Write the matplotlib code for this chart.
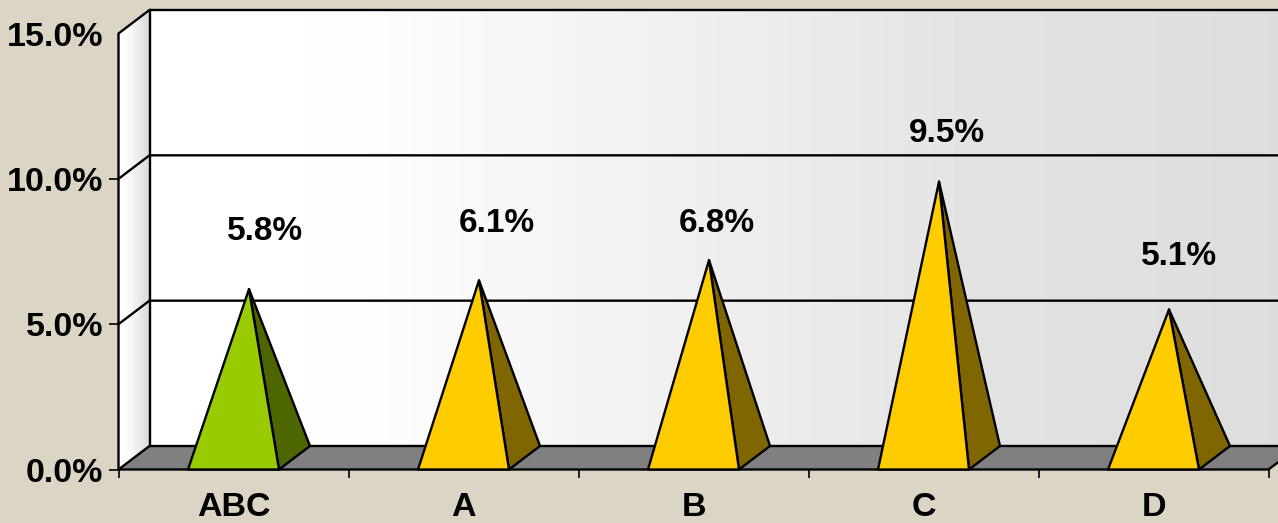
import numpy as np
import matplotlib
matplotlib.use("Agg")
import matplotlib.pyplot as plt
from matplotlib.patches import Polygon

plt.rcParams['font.family'] = ['Liberation Sans', 'DejaVu Sans']

categories = ['ABC', 'A', 'B', 'C', 'D']
values = [5.8, 6.1, 6.8, 9.5, 5.1]
value_labels = ['5.8%', '6.1%', '6.8%', '9.5%', '5.1%']
front_colors = ['#99CC00', '#FFCC00', '#FFCC00', '#FFCC00', '#FFCC00']
side_colors = ['#4D6600', '#806600', '#806600', '#806600', '#806600']
y_ticks = [0, 5, 10, 15]
y_tick_labels = ['0.0%', '5.0%', '10.0%', '15.0%']

# manual label nudges, the labels were dragged around in the original
label_dx = [0.135, 0.143, 0.10, 0.10, 0.113]
label_dy = [1.98, 1.95, 1.26, 1.67, 1.81]

W, H = 1278, 523
bg = '#DCD5C6'

fig = plt.figure(figsize=(W / 100, H / 100), dpi=100, facecolor=bg)
# axes box is the front plane of the 3d chart
ax = fig.add_axes([118.5 / W, 1 - 469.5 / H, 1150 / W, 436 / H])
ax.set_facecolor('none')

# depth of the 3d box in data units
dx = 31 / 230
dy = 23.5 / 29.07
half = 45.5 / 230
x0, x1 = -0.5, 4.5
lw = 1.7

# back wall
grad = np.interp(np.linspace(0, 1, 256), [0, 0.17, 0.75, 1], [1.0, 0.995, 0.885, 0.865]).reshape(1, -1)
im = ax.imshow(grad, cmap='gray', vmin=0, vmax=1, aspect='auto',
               extent=(x0 + dx, x1 + dx, dy, 15 + dy), zorder=1)
im.set_clip_box(fig.bbox)

# left wall
side = Polygon([(x0, 0), (x0 + dx, dy), (x0 + dx, 15 + dy), (x0, 15)],
               closed=True, fc='none', ec='none', clip_on=False)
ax.add_patch(side)
grad2 = np.interp(np.linspace(0, 1, 64), [0, 0.35, 1], [1.0, 0.98, 0.85]).reshape(1, -1)
im2 = ax.imshow(grad2, cmap='gray', vmin=0, vmax=1, aspect='auto',
                extent=(x0, x0 + dx, 0, 15 + dy), zorder=1)
im2.set_clip_box(fig.bbox)
im2.set_clip_path(side)

ax.set_xlim(x0, x1)
ax.set_ylim(0, 15)

# floor
ax.add_patch(Polygon([(x0, 0), (x1, 0), (x1 + dx, dy), (x0 + dx, dy)], closed=True,
                     fc='#808080', ec='black', lw=lw, clip_on=False, zorder=2))

# wall outlines and gridlines
ax.plot([x0, x0, x0 + dx, x1 + dx], [0, 15, 15 + dy, 15 + dy], color='black', lw=lw,
        clip_on=False, zorder=3)
ax.plot([x0 + dx, x0 + dx], [dy, 15 + dy], color='black', lw=lw, clip_on=False, zorder=3)
for t in y_ticks[1:-1]:
    ax.plot([x0, x0 + dx, x1 + dx], [t, t + dy, t + dy], color='black', lw=lw,
            clip_on=False, zorder=3)

# pyramids
for i, v in enumerate(values):
    peak = (i + dx / 2, v + dy / 2)
    ax.add_patch(Polygon([(i + half, 0), (i + half + dx, dy), peak], closed=True,
                         fc=side_colors[i], ec='black', lw=lw, joinstyle='round',
                         clip_on=False, zorder=4))
    ax.add_patch(Polygon([(i - half, 0), (i + half, 0), peak], closed=True,
                         fc=front_colors[i], ec='black', lw=lw, joinstyle='round',
                         clip_on=False, zorder=5))
    ax.text(i + label_dx[i], v + dy / 2 + label_dy[i], value_labels[i], ha='center', va='center',
            fontsize=24, fontweight='bold', color='black', zorder=6)

# axes
for s in ax.spines.values():
    s.set_visible(False)
ax.set_yticks(y_ticks)
ax.set_yticklabels(y_tick_labels, fontsize=24.5, fontweight='bold')
ax.set_xticks(range(len(categories)))
ax.set_xticklabels(categories, fontsize=24.5, fontweight='bold')
ax.set_xticks(np.arange(x0, x1 + 0.5, 1), minor=True)
ax.tick_params(axis='x', which='major', length=0, pad=16)
ax.tick_params(axis='x', which='minor', length=6, width=1.2, color='black')
ax.tick_params(axis='y', which='major', length=7, width=1.2, color='black', pad=4)
ax.yaxis.get_major_ticks()[-1].tick1line.set_visible(False)

fig.savefig('out.png', dpi=100, facecolor=bg)
